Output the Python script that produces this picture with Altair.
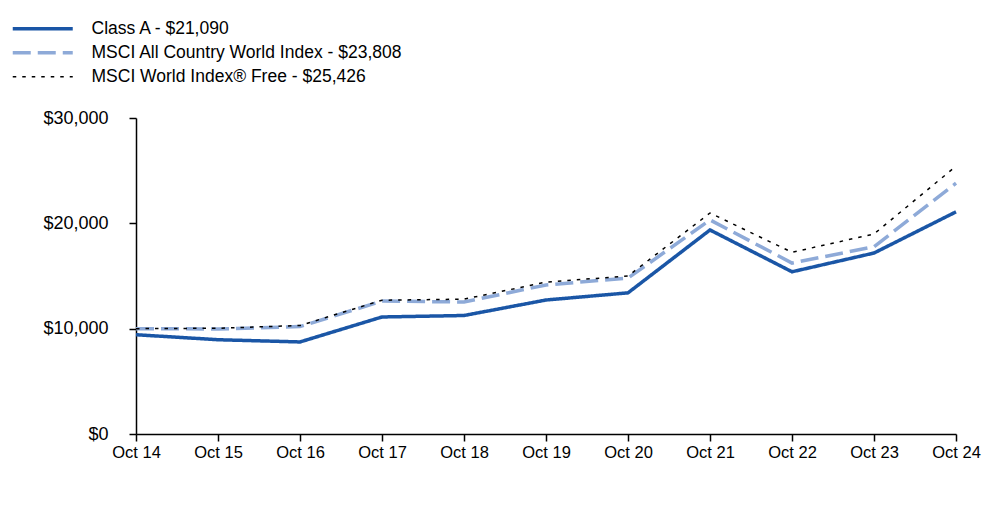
import altair as alt
import pandas as pd

years = ["Oct 14", "Oct 15", "Oct 16", "Oct 17", "Oct 18", "Oct 19",
         "Oct 20", "Oct 21", "Oct 22", "Oct 23", "Oct 24"]
class_a = [9425, 8950, 8740, 11110, 11250, 12720, 13400, 19370, 15400, 17180, 21090]
acwi = [10000, 9970, 10200, 12620, 12530, 14150, 14800, 20320, 16230, 17780, 23808]
world = [10000, 10040, 10300, 12700, 12800, 14420, 15000, 20980, 17250, 18990, 25426]

names = ["Class A - $21,090",
         "MSCI All Country World Index - $23,808",
         "MSCI World Index® Free - $25,426"]

rows = []
for nm, vals in zip(names, [class_a, acwi, world]):
    for y, v in zip(years, vals):
        rows.append({"year": y, "value": v, "series": nm})
df = pd.DataFrame(rows)

FONT = "Liberation Sans"
thin_expr = "datum.label == '" + names[2] + "' ? 1.5 : 3.5"

legend = alt.Legend(
    title=None, orient="none", legendX=-102, legendY=-98, padding=0,
    symbolType="M-3,0L3,0", symbolSize=400, labelFontSize=17.5,
    labelFont=FONT, labelColor="#000000", labelOffset=40,
    rowPadding=5, labelLimit=700,
    symbolStrokeWidth={"expr": thin_expr},
)

chart = alt.Chart(df).mark_line().encode(
    x=alt.X("year:O", sort=years, scale=alt.Scale(type="point", padding=0),
            axis=alt.Axis(title=None, labelAngle=0, labelFontSize=16.5,
                          labelFont=FONT, labelColor="#000000",
                          domainColor="#000000", tickColor="#000000",
                          domainWidth=1.5, tickWidth=1.5, tickSize=7,
                          labelPadding=3)),
    y=alt.Y("value:Q", scale=alt.Scale(domain=[0, 30000], nice=False),
            axis=alt.Axis(title=None, values=[0, 10000, 20000, 30000],
                          format="$,.0f", labelFontSize=18,
                          labelFont=FONT, labelColor="#000000",
                          domainColor="#000000", tickColor="#000000",
                          domainWidth=1.5, tickWidth=1.5, tickSize=7,
                          labelPadding=21, grid=False)),
    color=alt.Color("series:N", sort=names,
                    scale=alt.Scale(domain=names, range=["#1a56a6", "#8eaad8", "#000000"]),
                    legend=legend),
    strokeDash=alt.StrokeDash("series:N", sort=names,
                              scale=alt.Scale(domain=names, range=[[1, 0], [18, 7], [3.5, 6]]),
                              legend=legend),
    strokeWidth=alt.condition(alt.datum.series == names[2], alt.value(1.5), alt.value(3.5)),
).properties(
    width=820, height=316,
    autosize=alt.AutoSizeParams(type="none"),
    padding={"left": 128, "top": 110, "right": 36, "bottom": 60},
).configure_view(stroke=None).configure_axis(grid=False)

chart.save("out.html", embed_options={"renderer": "svg", "actions": False})
